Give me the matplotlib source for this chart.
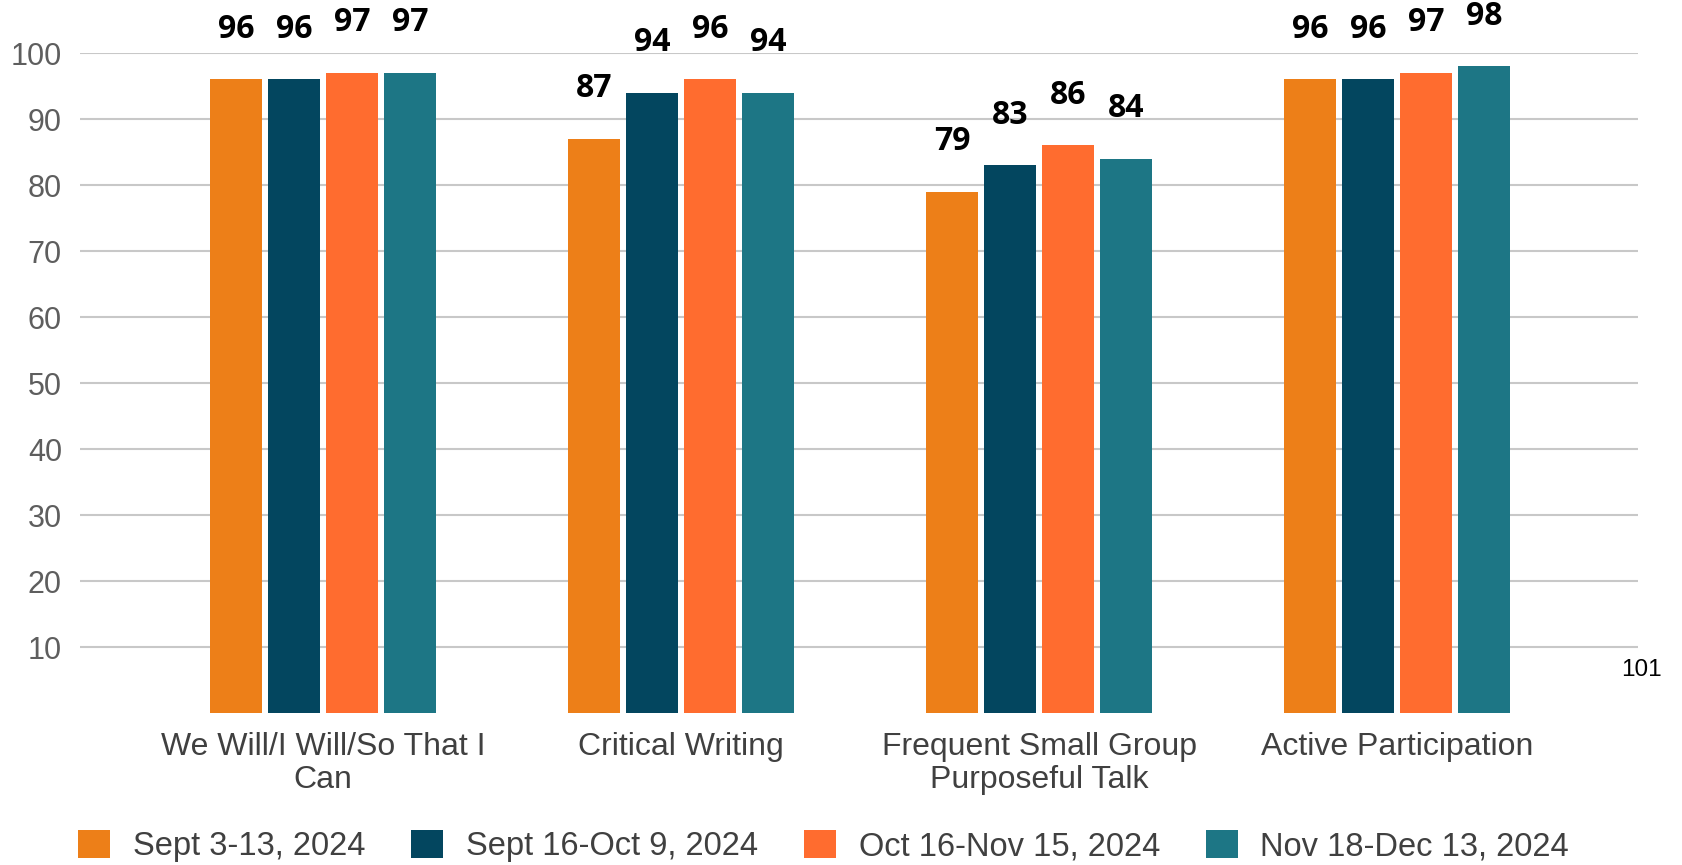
import numpy as np
import matplotlib
matplotlib.use("Agg")
import matplotlib.pyplot as plt
from matplotlib.patches import Patch

plt.rcParams['font.family'] = ['Liberation Sans', 'DejaVu Sans']

categories = ["We Will/I Will/So That I\nCan", "Critical Writing",
              "Frequent Small Group\nPurposeful Talk", "Active Participation"]
periods = ["Sept 3-13, 2024", "Sept 16-Oct 9, 2024",
           "Oct 16-Nov 15, 2024", "Nov 18-Dec 13, 2024"]
sept_early = [96, 87, 79, 96]
sept_oct = [96, 94, 83, 96]
oct_nov = [97, 96, 86, 97]
nov_dec = [97, 94, 84, 98]
series = [sept_early, sept_oct, oct_nov, nov_dec]
colors = ['#ED7F18', '#03465F', '#FF6C2F', '#1D7685']
yticks = [10, 20, 30, 40, 50, 60, 70, 80, 90, 100]

fig = plt.figure(figsize=(16.82, 8.65), dpi=100)
ax = fig.add_axes([0.04756, 0.17572, 0.9263, 0.763])

x = np.arange(len(categories))
step = 0.162
width = 0.1453
for i, (vals, col) in enumerate(zip(series, colors)):
    pos = x + (i - 1.5) * step
    ax.bar(pos, vals, width=width, color=col, zorder=3, label=periods[i])
    for px, v in zip(pos, vals):
        ax.annotate(str(v), (px, v), xytext=(0, 30), textcoords='offset points',
                    ha='center', va='baseline', fontsize=23, fontweight='bold',
                    family=['Open Sans', 'DejaVu Sans'], color='black',
                    annotation_clip=False)

ax.set_xlim(-0.679, 3.673)
ax.set_ylim(0, 100)
ax.set_yticks(yticks)
ax.yaxis.grid(True, color='#c8c8c8', linewidth=1.5, zorder=0)
ax.set_axisbelow(True)
ax.set_xticks(x)
ax.set_xticklabels(categories, fontsize=23, color='#404040', linespacing=1.1)
ax.tick_params(axis='x', length=0, pad=14)
ax.tick_params(axis='y', length=0, pad=13, labelsize=22, labelcolor='#5e5e5e')
for s in ax.spines.values():
    s.set_visible(False)

handles = [Patch(facecolor=c, edgecolor='none') for c in colors]
fig.legend(handles, periods, loc='center left', bbox_to_anchor=(78 / 1682, 1 - 846 / 865),
           ncol=4, frameon=False, fontsize=23.5, handlelength=0.98, handleheight=0.98,
           handletextpad=0.7, columnspacing=1.4, borderpad=0, borderaxespad=0,
           labelcolor='#404040')

fig.text(1662 / 1682, 1 - 670 / 865, "101", ha='right', va='center', fontsize=17.5, color='black')

fig.savefig("out.png", dpi=100)
